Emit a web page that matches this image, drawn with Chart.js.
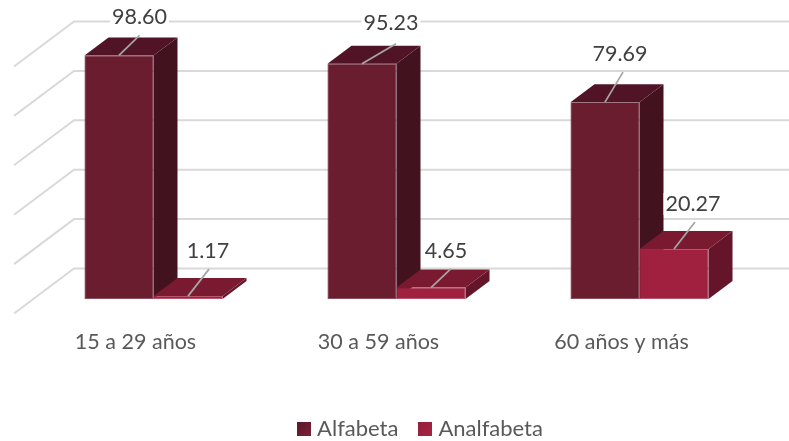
<!DOCTYPE html>
<html><head><meta charset="utf-8">
<script src="https://cdn.jsdelivr.net/npm/chart.js@4"></script>
<style>html,body{margin:0;padding:0;background:#fff}#w{width:789px;height:441px;position:relative}</style>
</head><body><div id="w"><canvas id="c"></canvas></div>
<script>
const categories = ["15 a 29 años", "30 a 59 años", "60 años y más"];
const alfabeta = [98.60, 95.23, 79.69];
const analfabeta = [1.17, 4.65, 20.27];
const seriesNames = ["Alfabeta", "Analfabeta"];
const yTicksStep = 20;

const FONT = 'Lato, "Open Sans", sans-serif';
const faces = [
  {front:"#6B1D30", top:"#501426", side:"#43121F", edge:"#753040", sw0:"#5C1729", sw1:"#7A2238"},
  {front:"#A0213F", top:"#7A1A30", side:"#65152A", edge:"#AA3A55", sw0:"#951E3A", sw1:"#A82443"}
];
// oblique projection of the chart's depth, in pixels
const depth = {bx:24, by:-18, wallY:-30.5, floorY:14.5};
// per bar: leader end (dx,dy) from the bar's front-top centre, then label centre (dx,dy) from leader end
const leaders = [
  [[20.5,-20,0,-18],[34,-20,-5,-21],[18,-30,-3,-18]],
  [[21,-27,-1,-18.5],[20,-19,-5,-17.5],[21,-27,-2,-18]]
];

function poly(ctx, pts, fill){
  ctx.beginPath();
  pts.forEach((p,i)=> i?ctx.lineTo(p[0],p[1]):ctx.moveTo(p[0],p[1]));
  ctx.closePath(); ctx.fillStyle=fill; ctx.fill();
}
function swatch(f){
  const c=document.createElement("canvas"); c.width=14; c.height=14;
  const g=c.getContext("2d"), lg=g.createLinearGradient(0,0,14,14);
  lg.addColorStop(0,f.sw0); lg.addColorStop(1,f.sw1);
  g.fillStyle=lg; g.fillRect(0,0,14,14);
  return c;
}
const bars3d = {
  id:"bars3d",
  afterLayout(chart){
    const l=chart.legend;
    l.left+=26; l.right+=26;
    l.top=393; l.bottom=441;
  },
  beforeDatasetsDraw(chart){
    const {ctx, scales:{y}, chartArea:a, width} = chart;
    ctx.save();
    ctx.strokeStyle="#D9D9D9"; ctx.lineWidth=2;
    const wallLeft = a.left + 42, floorLeft = a.left - 18;
    y.ticks.forEach(t=>{
      const py = y.getPixelForValue(t.value);
      ctx.beginPath();
      ctx.moveTo(floorLeft, py+depth.floorY);
      ctx.lineTo(wallLeft, py+depth.wallY);
      ctx.lineTo(width, py+depth.wallY);
      ctx.stroke();
    });
    chart.data.datasets.forEach((ds,i)=>{
      const f = faces[i];
      chart.getDatasetMeta(i).data.forEach(b=>{
        const l=b.x-b.width/2, r=b.x+b.width/2, t=b.y, bt=b.base, dx=depth.bx, dy=depth.by;
        poly(ctx,[[r,t],[r+dx,t+dy],[r+dx,bt+dy],[r,bt]],f.side);
        poly(ctx,[[l,t],[l+dx,t+dy],[r+dx,t+dy],[r,t]],f.top);
      });
    });
    ctx.restore();
  },
  afterDatasetsDraw(chart){
    const {ctx} = chart;
    ctx.save();
    ctx.font = "21.5px "+FONT;
    ctx.textAlign="center"; ctx.textBaseline="middle";
    chart.data.datasets.forEach((ds,i)=>{
      chart.getDatasetMeta(i).data.forEach((b,j)=>{
        const o = leaders[i][j], ex=b.x+o[0], ey=b.y+o[1];
        const txt = ds.data[j].toFixed(2), lx=ex+o[2], ly=ey+o[3];
        const w = ctx.measureText(txt).width;
        ctx.fillStyle="#fff"; ctx.fillRect(lx-w/2-2, ly-11, w+4, 22);
        ctx.fillStyle="#404040"; ctx.fillText(txt,lx,ly);
        ctx.strokeStyle="#A6A6A6"; ctx.lineWidth=1.75;
        ctx.beginPath(); ctx.moveTo(b.x,b.y); ctx.lineTo(ex,ey); ctx.stroke();
      });
    });
    ctx.restore();
  }
};

new Chart(document.getElementById("c"),{
  type:"bar",
  data:{labels:categories,datasets:[
    {label:seriesNames[0],data:alfabeta,backgroundColor:faces[0].front,borderColor:faces[0].edge,borderWidth:0.7,borderSkipped:false,categoryPercentage:0.568,barPercentage:1,pointStyle:swatch(faces[0])},
    {label:seriesNames[1],data:analfabeta,backgroundColor:faces[1].front,borderColor:faces[1].edge,borderWidth:0.7,borderSkipped:false,categoryPercentage:0.568,barPercentage:1,pointStyle:swatch(faces[1])}
  ]},
  options:{
    responsive:true,maintainAspectRatio:false,animation:false,devicePixelRatio:1,
    layout:{padding:{left:32,right:28,top:52,bottom:0}},
    plugins:{
      tooltip:{enabled:false},
      legend:{position:"bottom",align:"center",
        labels:{usePointStyle:true,pointStyleWidth:4,boxHeight:14,padding:25,color:"#595959",font:{family:FONT,size:22}}}
    },
    scales:{
      x:{grid:{display:false},border:{display:false},
        ticks:{color:"#595959",font:{family:FONT,size:21.5},labelOffset:-18,padding:22.5,maxRotation:0},
        afterFit(s){s.height=85;}},
      y:{display:false,min:0,max:100,ticks:{stepSize:yTicksStep}}
    }
  },
  plugins:[bars3d]
});
</script></body></html>
